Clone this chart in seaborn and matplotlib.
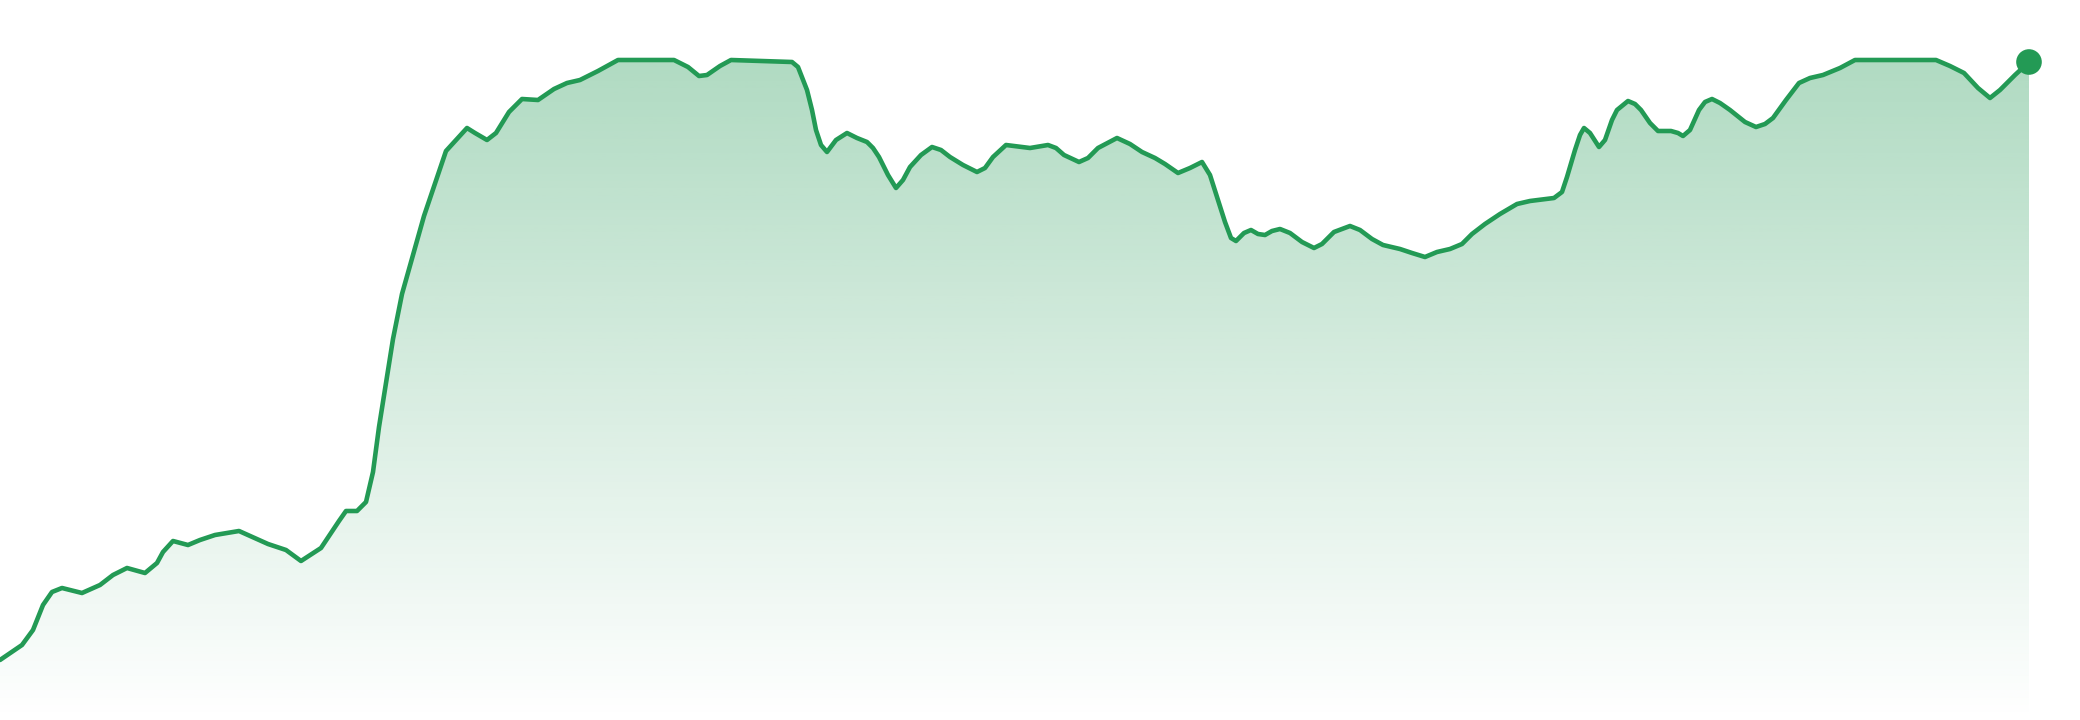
import numpy as np
import pandas as pd
import matplotlib
matplotlib.use("Agg")
import matplotlib.pyplot as plt
import seaborn as sns

# values (x position, value above baseline)
days = [0, 22, 33, 43, 52, 62, 82, 100, 113, 127, 145, 157, 163, 173, 188, 200, 215, 239,
        268, 286, 301, 321, 339, 346, 357, 366, 373, 379, 393, 402, 424, 446, 467, 475,
        487, 496, 509, 522, 538, 554, 567, 580, 598, 618, 674, 688, 699, 707, 720, 731,
        792, 798, 807, 812, 816, 821, 827, 836, 847, 857, 867, 873, 879, 888, 896, 903,
        910, 921, 932, 941, 950, 963, 977, 985, 993, 1006, 1030, 1048, 1056, 1064, 1079,
        1088, 1098, 1117, 1130, 1142, 1155, 1165, 1178, 1190, 1202, 1210, 1218, 1225,
        1231, 1236, 1244, 1251, 1258, 1265, 1272, 1280, 1290, 1302, 1314, 1322, 1334,
        1350, 1360, 1372, 1383, 1400, 1412, 1425, 1437, 1450, 1462, 1472, 1485, 1500,
        1517, 1530, 1554, 1562, 1567, 1575, 1580, 1584, 1590, 1599, 1605, 1612, 1617,
        1628, 1635, 1641, 1650, 1658, 1671, 1678, 1683, 1690, 1699, 1705, 1712, 1720,
        1730, 1745, 1756, 1765, 1773, 1786, 1799, 1810, 1823, 1840, 1855, 1936, 1950,
        1964, 1978, 1990, 2000, 2015, 2029]
ypix = [660, 645, 630, 605, 592, 588, 593, 585, 575, 568, 573, 563, 552, 541, 545, 540, 535, 531,
        544, 550, 561, 548, 521, 511, 511, 502, 472, 427, 339, 294, 216, 151, 128, 133,
        140, 133, 112, 99, 100, 89, 83, 80, 71, 60, 60, 67, 76, 75, 66, 60,
        62, 67, 90, 110, 130, 145, 152, 140, 133, 138, 142, 148, 157, 175, 188, 180,
        167, 155, 147, 150, 157, 165, 172, 168, 157, 145, 148, 145, 148, 155, 162,
        158, 148, 138, 144, 152, 158, 164, 173, 168, 162, 175, 200, 222,
        238, 241, 233, 230, 234, 235, 231, 229, 233, 242, 248, 244, 232,
        226, 230, 239, 245, 249, 253, 257, 252, 249, 244, 234, 224, 214,
        204, 201, 198, 192, 177, 150, 135, 128, 133, 147, 140, 120, 110,
        101, 104, 110, 123, 131, 131, 133, 136, 130, 110, 102, 99, 103,
        110, 122, 127, 124, 118, 100, 83, 78, 75, 68, 60, 60, 66,
        73, 88, 98, 90, 75, 62]
price = [720 - v for v in ypix]

df = pd.DataFrame({"day": days, "price": price})

green = "#239a55"

sns.set_style("white")
fig = plt.figure(figsize=(20.8, 7.2), dpi=100)
ax = fig.add_axes([0, 0, 1, 1])

# gradient area under the line
top = 660
grad = np.zeros((300, 2, 4))
rgb = matplotlib.colors.to_rgb(green)
grad[..., 0], grad[..., 1], grad[..., 2] = rgb
grad[..., 3] = np.linspace(0.36, 0.0, 300)[:, None]
poly = ax.fill_between(df["day"], df["price"], 0, color="none", lw=0)
img = ax.imshow(grad, extent=[0, df["day"].iloc[-1], 0, top], aspect="auto",
                origin="upper", zorder=1)
img.set_clip_path(poly.get_paths()[0], transform=ax.transData)

sns.lineplot(data=df, x="day", y="price", color=green, lw=3.3, ax=ax, zorder=3,
             solid_joinstyle="round", solid_capstyle="round")
last = df.iloc[[-1]]
sns.scatterplot(data=last, x="day", y="price", color=green, s=340, edgecolor="none",
                ax=ax, zorder=4)

ax.set_xlim(0, 2080)
ax.set_ylim(0, 720)
ax.axis("off")
fig.savefig("out.png", dpi=100)
